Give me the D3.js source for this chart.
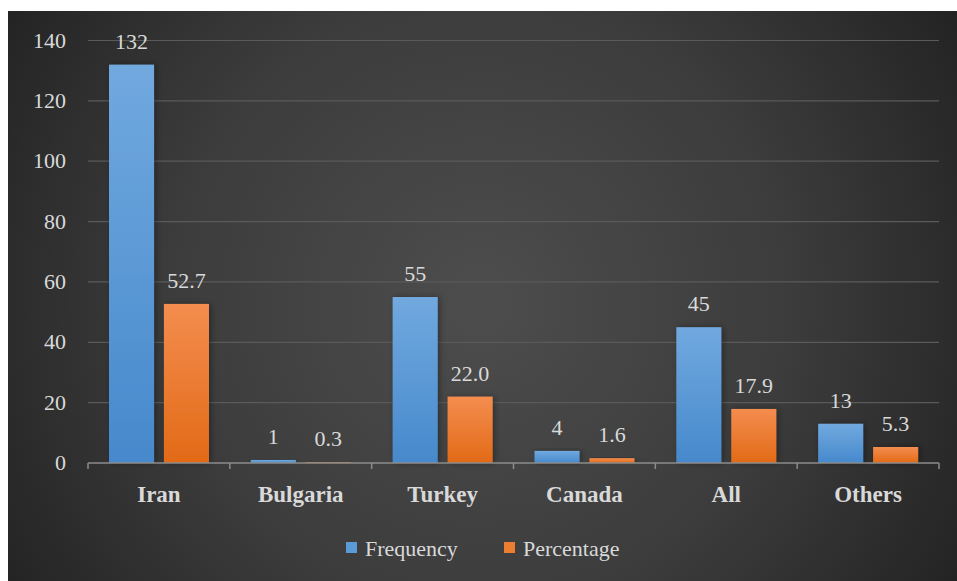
<!DOCTYPE html>
<html><head><meta charset="utf-8">
<script src="https://cdn.jsdelivr.net/npm/d3@7"></script>
</head><body style="margin:0">
<script>
const categories = ["Iran","Bulgaria","Turkey","Canada","All","Others"];
const frequency = [132, 1, 55, 4, 45, 13];
const percentage = [52.7, 0.3, 22.0, 1.6, 17.9, 5.3];
const percentageLabels = ["52.7","0.3","22.0","1.6","17.9","5.3"];
const yTicks = [0,20,40,60,80,100,120,140];
const seriesNames = ["Frequency","Percentage"];

const W = 957, H = 581;
const svg = d3.select("body").append("svg").attr("width", W).attr("height", H)
  .style("display","block");
svg.append("style").text('text { font-family: "Liberation Serif"; fill: #d9d9d9; } .cat { font-weight: bold; }');
const defs = svg.append("defs");
const rg = defs.append("radialGradient").attr("id","bg").attr("gradientUnits","userSpaceOnUse")
  .attr("cx",480).attr("cy",300).attr("r",560);
rg.append("stop").attr("offset","0").attr("stop-color","#4d4d4d");
rg.append("stop").attr("offset","0.55").attr("stop-color","#3c3c3c");
rg.append("stop").attr("offset","1").attr("stop-color","#232323");
const gb = defs.append("linearGradient").attr("id","gblue").attr("x1",0).attr("y1",0).attr("x2",0).attr("y2",1);
gb.append("stop").attr("offset","0").attr("stop-color","#71a9df");
gb.append("stop").attr("offset","1").attr("stop-color","#4689cc");
const go = defs.append("linearGradient").attr("id","gorange").attr("x1",0).attr("y1",0).attr("x2",0).attr("y2",1);
go.append("stop").attr("offset","0").attr("stop-color","#f48d4f");
go.append("stop").attr("offset","1").attr("stop-color","#e26a17");
const sh = defs.append("filter").attr("id","shadow").attr("x","-20%").attr("y","-20%").attr("width","140%").attr("height","140%");
sh.append("feDropShadow").attr("dx",2).attr("dy",0).attr("stdDeviation",3).attr("flood-color","#000").attr("flood-opacity",0.35);

svg.append("rect").attr("x",8).attr("y",11).attr("width",W-8).attr("height",H-11).attr("fill","url(#bg)");

const plotL = 88, plotR = 939, plotT = 40.5, plotB = 463;
const x = d3.scaleBand().domain(categories).range([plotL,plotR]).paddingInner(0).paddingOuter(0);
const y = d3.scaleLinear().domain([0,140]).range([plotB, plotT]);
const bw = x.bandwidth();
const inner = d3.scaleBand().domain(seriesNames).range([bw*0.148, bw*0.853]).paddingInner(0.18);

svg.append("g").selectAll("line").data(yTicks.filter(d=>d>0)).join("line")
  .attr("x1",plotL).attr("x2",plotR).attr("y1",d=>y(d)).attr("y2",d=>y(d))
  .attr("stroke","#5a5a5a").attr("stroke-width",1.2);

svg.append("g").selectAll("text").data(yTicks).join("text")
  .attr("x",66).attr("y",d=>y(d)+7).attr("text-anchor","end")
  .attr("font-size",22)
  .text(d=>d);

const series = [
  {name:"Frequency", vals:frequency, labels:frequency.map(String), fill:"url(#gblue)"},
  {name:"Percentage", vals:percentage, labels:percentageLabels, fill:"url(#gorange)"}
];
series.forEach(s=>{
  const g = svg.append("g");
  g.selectAll("rect").data(categories).join("rect")
    .attr("x",(c)=>x(c)+inner(s.name)).attr("width",inner.bandwidth())
    .attr("y",(c,i)=>y(s.vals[i])).attr("height",(c,i)=>Math.max(0,y(0)-y(s.vals[i])))
    .attr("fill",s.fill).attr("filter","url(#shadow)");
  g.selectAll("text").data(categories).join("text")
    .attr("x",(c)=>x(c)+inner(s.name)+inner.bandwidth()/2)
    .attr("y",(c,i)=>y(s.vals[i])-16)
    .attr("text-anchor","middle")
    .attr("font-size",22)
    .text((c,i)=>s.labels[i]);
});

const xa = svg.append("g");
xa.append("line").attr("x1",plotL).attr("x2",plotR).attr("y1",plotB).attr("y2",plotB)
  .attr("stroke","#8c8c8c").attr("stroke-width",1.5);
xa.selectAll("line.tk").data(d3.range(categories.length+1)).join("line").attr("class","tk")
  .attr("x1",i=>plotL+i*bw).attr("x2",i=>plotL+i*bw).attr("y1",plotB).attr("y2",plotB+6)
  .attr("stroke","#8c8c8c").attr("stroke-width",1.5);
xa.selectAll("text").data(categories).join("text").attr("class","cat")
  .attr("x",c=>x(c)+bw/2).attr("y",502).attr("text-anchor","middle")
  .attr("font-size",23)
  .text(c=>c);

const leg = svg.append("g");
const legItems = [{name:"Frequency",fill:"#5b9bd5",x:346},{name:"Percentage",fill:"#ed7d31",x:504}];
legItems.forEach(l=>{
  leg.append("rect").attr("x",l.x).attr("y",542).attr("width",11).attr("height",11).attr("fill",l.fill);
  leg.append("text").attr("x",l.x+19).attr("y",556).attr("font-size",22).text(l.name);
});
</script>
</body></html>
